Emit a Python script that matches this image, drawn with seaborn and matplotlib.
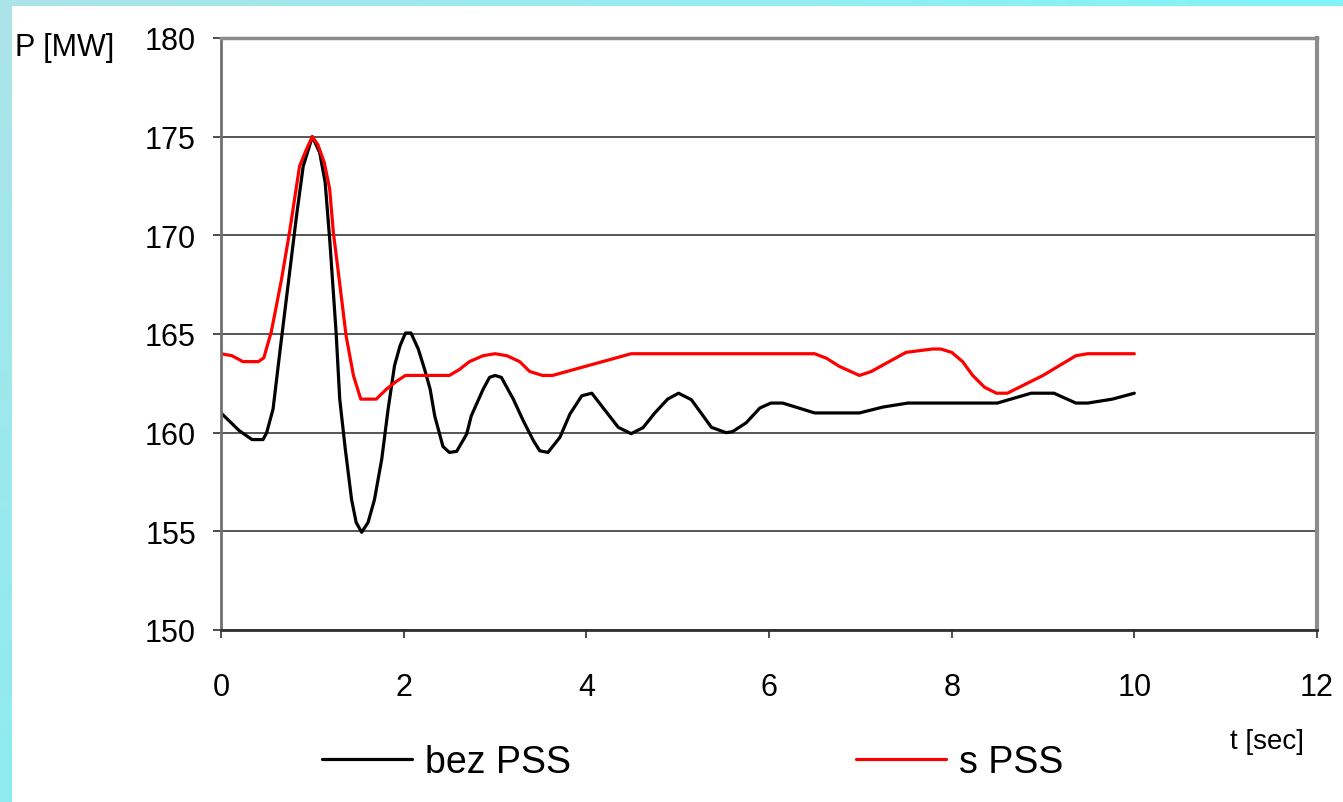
import numpy as np
import pandas as pd
import matplotlib
matplotlib.use("Agg")
import matplotlib.pyplot as plt
import seaborn as sns

# ──────────────────────────────
# Data
# ──────────────────────────────
t_bez = [0.0, 0.2, 0.34, 0.46, 0.5, 0.57, 0.65, 0.74, 0.83, 0.9, 1.0, 1.08, 1.14,
         1.19, 1.26, 1.3, 1.36, 1.43, 1.48, 1.54, 1.61, 1.68, 1.76, 1.83, 1.9, 1.96,
         2.02, 2.08, 2.16, 2.23, 2.29, 2.34, 2.43, 2.5, 2.58, 2.69, 2.74, 2.87, 2.94,
         3.0, 3.07, 3.2, 3.31, 3.42, 3.49, 3.58, 3.71, 3.82, 3.95, 4.06, 4.18, 4.35,
         4.49, 4.62, 4.75, 4.89, 5.01, 5.15, 5.37, 5.53, 5.6, 5.75, 5.9, 6.02, 6.15,
         6.5, 6.99, 7.25, 7.52, 8.5, 8.87, 9.12, 9.36, 9.49, 9.76, 10.0]
p_bez = [161.0, 160.1, 159.65, 159.65, 160.0, 161.2, 164.3, 167.7, 171.1, 173.5, 175.0,
         174.2, 172.7, 169.8, 165.1, 161.7, 159.2, 156.6, 155.45, 154.95, 155.45, 156.6,
         158.66, 161.2, 163.4, 164.4, 165.05, 165.05, 164.24, 163.2, 162.2, 160.85, 159.3,
         159.0, 159.05, 159.93, 160.85, 162.2, 162.8, 162.9, 162.8, 161.7, 160.6, 159.6,
         159.08, 159.0, 159.76, 160.94, 161.87, 162.0, 161.28, 160.27, 159.95, 160.25,
         161.0, 161.7, 162.0, 161.67, 160.27, 160.0, 160.05, 160.5, 161.25, 161.5, 161.5,
         161.0, 161.0, 161.3, 161.5, 161.5, 162.0, 162.0, 161.5, 161.5, 161.7, 162.0]

t_s = [0.0, 0.12, 0.24, 0.41, 0.47, 0.5, 0.55, 0.66, 0.75, 0.86, 0.93, 1.0, 1.06, 1.13,
       1.19, 1.23, 1.28, 1.37, 1.45, 1.53, 1.7, 1.81, 1.92, 2.02, 2.5, 2.61, 2.72, 2.87,
       3.0, 3.13, 3.27, 3.38, 3.52, 3.63, 4.49, 6.5, 6.63, 6.77, 6.99, 7.12, 7.5, 7.79,
       7.88, 8.0, 8.12, 8.23, 8.36, 8.49, 8.61, 9.0, 9.36, 9.49, 10.0]
p_s = [164.0, 163.9, 163.6, 163.6, 163.8, 164.3, 165.1, 167.7, 170.15, 173.5, 174.3,
       175.0, 174.6, 173.7, 172.35, 170.15, 168.3, 164.9, 162.9, 161.7, 161.7, 162.2,
       162.6, 162.9, 162.9, 163.2, 163.6, 163.9, 164.0, 163.9, 163.6, 163.1, 162.9, 162.9,
       164.0, 164.0, 163.77, 163.36, 162.9, 163.1, 164.07, 164.24, 164.24, 164.07, 163.6,
       162.9, 162.3, 162.0, 162.0, 162.9, 163.9, 164.0, 164.0]

series_names = ["bez PSS", "s PSS"]
x_ticks = [0, 2, 4, 6, 8, 10, 12]
y_ticks = [150, 155, 160, 165, 170, 175, 180]

df = pd.concat([
    pd.DataFrame({"t": t_bez, "P": p_bez, "series": series_names[0]}),
    pd.DataFrame({"t": t_s, "P": p_s, "series": series_names[1]}),
], ignore_index=True)

# ──────────────────────────────
# Style
# ──────────────────────────────
sns.set_theme(style="white")
plt.rcParams["font.family"] = ["Liberation Sans", "DejaVu Sans"]
plt.rcParams["text.color"] = "black"
plt.rcParams["axes.labelcolor"] = "black"

W, H = 1343, 803
fig = plt.figure(figsize=(W / 100, H / 100), dpi=100)

# cyan gradient frame at top/left
bg = fig.add_axes([0, 0, 1, 1], zorder=-10)
u = np.linspace(0, 1, 200)[None, :]
v = np.linspace(0, 1, 200)[:, None]
c0 = np.array([0xac, 0xe4, 0xe8]) / 255
c1 = np.array([0x80, 0xf4, 0xf6]) / 255
c2 = np.array([0x8e, 0xec, 0xf0]) / 255
mix_u = np.clip(u + 0 * v, 0, 1)[..., None]
mix_v = np.clip(v + 0 * u, 0, 1)[..., None]
grad = c0 * (1 - mix_u) * (1 - mix_v) + c1 * mix_u * (1 - mix_v) + c2 * mix_v * (1 - mix_u) + c2 * mix_u * mix_v
bg.imshow(grad, aspect="auto", extent=[0, 1, 0, 1], origin="upper")
bg.add_patch(plt.Rectangle((12 / W, 0), 1, 1 - 7 / H, color="white", lw=0))
bg.set_xlim(0, 1)
bg.set_ylim(0, 1)
bg.axis("off")

ax = fig.add_axes([221 / W, 1 - 631 / H, (1317 - 221) / W, (631 - 39) / H])
ax.set_facecolor("white")

sns.lineplot(data=df, x="t", y="P", hue="series", estimator=None,
             palette={"bez PSS": "black", "s PSS": "#ff0000"},
             linewidth=2.3, ax=ax, legend=True)

ax.set_xlim(0, 12)
ax.set_ylim(150, 180)
ax.set_xticks(x_ticks)
ax.set_yticks(y_ticks)
ax.yaxis.grid(True, color="#3a3a3a", linewidth=1.2)
ax.xaxis.grid(False)
ax.set_axisbelow(True)

ax.tick_params(axis="both", which="major", direction="out", length=6, width=1.2,
               colors="#303030", labelcolor="black", labelsize=22)
ax.tick_params(axis="y", pad=12, left=True)
ax.tick_params(axis="x", pad=24, bottom=True)

for side, col, lw in [("left", "#707070", 2.0), ("bottom", "#303030", 2.0),
                      ("top", "#8c8c8c", 2.5), ("right", "#8c8c8c", 3.0)]:
    ax.spines[side].set_visible(True)
    ax.spines[side].set_color(col)
    ax.spines[side].set_linewidth(lw)

ax.set_ylabel("P [MW]", rotation=0, fontsize=22, ha="left", va="center", color="black")
ax.yaxis.set_label_coords((15 - 221) / 1096, (631 - 48) / 592)
ax.set_xlabel("t [sec]", fontsize=20, ha="center", va="center", color="black")
ax.xaxis.set_label_coords((1267 - 221) / 1096, -(742 - 631) / 592)

handles, labels = ax.get_legend_handles_labels()
leg = ax.legend(handles, labels, ncol=2, frameon=False, fontsize=27,
                loc="center left", bbox_to_anchor=(322 / W, 1 - 763 / H),
                bbox_transform=fig.transFigure, borderpad=0, borderaxespad=0,
                handlelength=2.4, handletextpad=0.35, columnspacing=7.6)
for txt in leg.get_texts():
    txt.set_color("black")

plt.savefig("out.png", dpi=100)
plt.close(fig)
